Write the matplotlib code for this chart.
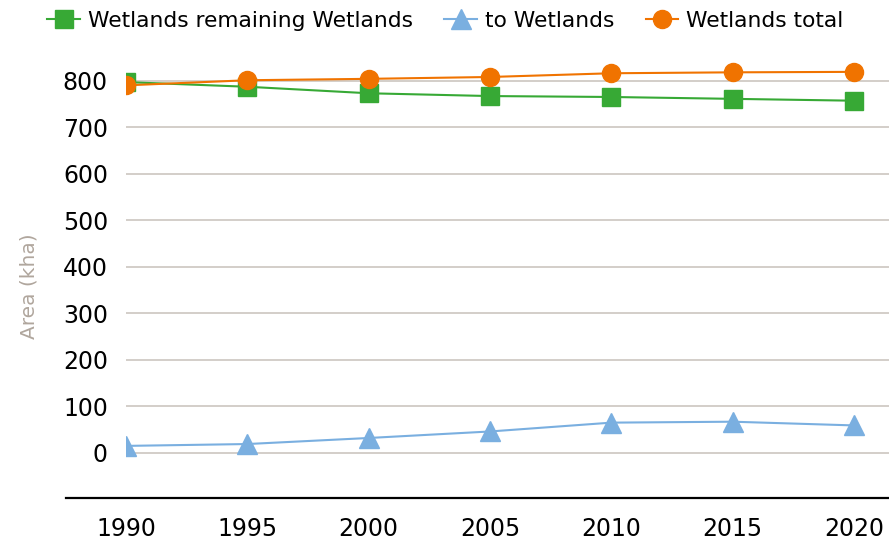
import numpy as np
import matplotlib.pyplot as plt

years = [1990, 1995, 2000, 2005, 2010, 2015, 2020]
remaining = [797, 787, 773, 767, 765, 761, 757]
to_wetlands = [15, 19, 32, 46, 65, 67, 59]
total = [790, 801, 804, 808, 816, 818, 819]
yticks = [0, 100, 200, 300, 400, 500, 600, 700, 800]

green = "#37a935"
blue = "#7aafe0"
orange = "#f07300"

fig = plt.figure(figsize=(8.89, 5.48), dpi=100)
ax = fig.add_axes([126 / 889, 50 / 548, 763 / 889, 448 / 548])

ax.plot(years, remaining, "-s", color=green, lw=1.5, ms=13,
        label="Wetlands remaining Wetlands")
ax.plot(years, to_wetlands, "-^", color=blue, lw=1.5, ms=14,
        label="to Wetlands")
ax.plot(years, total, "-o", color=orange, lw=1.5, ms=13,
        label="Wetlands total")

ax.set_xlim(1990, 2021.44)
ax.set_ylim(-97, 866)
ax.set_xticks(years)
ax.set_yticks(yticks)
ax.tick_params(axis="both", length=0, labelsize=17)
ax.tick_params(axis="x", pad=14)
ax.tick_params(axis="y", pad=13)
ax.grid(axis="y", color="#c8c1ba", lw=1.1)
ax.set_axisbelow(True)
for s in ax.spines.values():
    s.set_visible(False)

# black base line, extends left of the plot area
ax.plot([-60 / 763, 1], [0, 0], transform=ax.transAxes, color="black",
        lw=1.6, clip_on=False)

ax.set_ylabel("Area (kha)", color="#b0a69d", fontsize=14.5)
ax.yaxis.set_label_coords(-0.115, 0.473)

fig.legend(loc="center", bbox_to_anchor=(0.501, 1 - 21 / 548), ncol=3,
           frameon=False, fontsize=15.7, handlelength=1.5, handletextpad=0.35,
           columnspacing=1.45, borderaxespad=0)

fig.savefig("out.png", dpi=100)
